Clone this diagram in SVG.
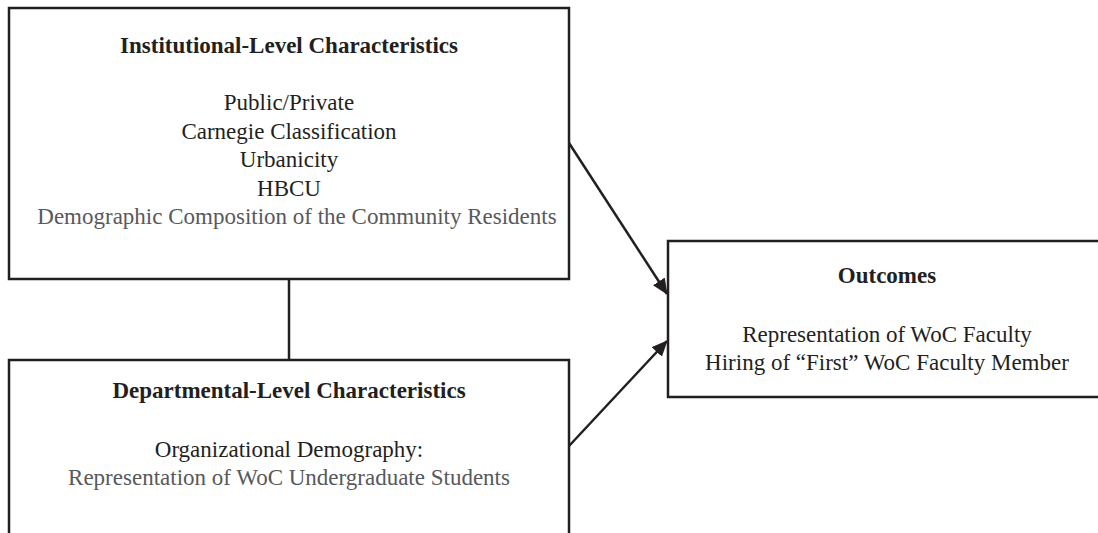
<svg xmlns="http://www.w3.org/2000/svg" width="1098" height="533" viewBox="0 0 1098 533">
  <style>
    .box { fill: #ffffff; stroke: #231f20; stroke-width: 2.5; }
    .conn { stroke: #231f20; stroke-width: 2.5; fill: none; }
    .t { font-family: 'Times New Roman', 'Liberation Serif', Tinos, Times, serif; font-size: 23px; text-anchor: middle; fill: #231f20; }
    .b { font-weight: bold; }
    .g { fill: #58595b; }
  </style>
  <defs>
    <marker id="arrow" markerUnits="userSpaceOnUse" markerWidth="16" markerHeight="14" viewBox="0 0 16 14" refX="15" refY="7" orient="auto">
      <path d="M0,0 L16,7 L0,14 Z" fill="#231f20"/>
    </marker>
  </defs>
  <rect width="1098" height="533" fill="#ffffff"/>
  <g id="connectors">
    <line class="conn" x1="289" y1="279" x2="289" y2="360"/>
    <line class="conn" x1="569" y1="143" x2="667" y2="294" marker-end="url(#arrow)"/>
    <line class="conn" x1="569" y1="446" x2="667" y2="341" marker-end="url(#arrow)"/>
  </g>
  <g id="institutional">
    <rect class="box" x="9" y="8" width="560" height="271"/>
    <text class="t b" x="289" y="53">Institutional-Level Characteristics</text>
    <text class="t" x="289" y="110">Public/Private</text>
    <text class="t" x="289" y="138.5">Carnegie Classification</text>
    <text class="t" x="289" y="167">Urbanicity</text>
    <text class="t" x="289" y="195.5">HBCU</text>
    <text class="t g" x="297" y="224">Demographic Composition of the Community Residents</text>
  </g>
  <g id="departmental">
    <rect class="box" x="9" y="360" width="560" height="190"/>
    <text class="t b" x="289" y="398">Departmental-Level Characteristics</text>
    <text class="t" x="289" y="457">Organizational Demography:</text>
    <text class="t g" x="289" y="485">Representation of WoC Undergraduate Students</text>
  </g>
  <g id="outcomes">
    <rect class="box" x="668" y="241" width="440" height="156"/>
    <text class="t b" x="887" y="283">Outcomes</text>
    <text class="t" x="887" y="342">Representation of WoC Faculty</text>
    <text class="t" x="887" y="370">Hiring of “First” WoC Faculty Member</text>
  </g>
</svg>
